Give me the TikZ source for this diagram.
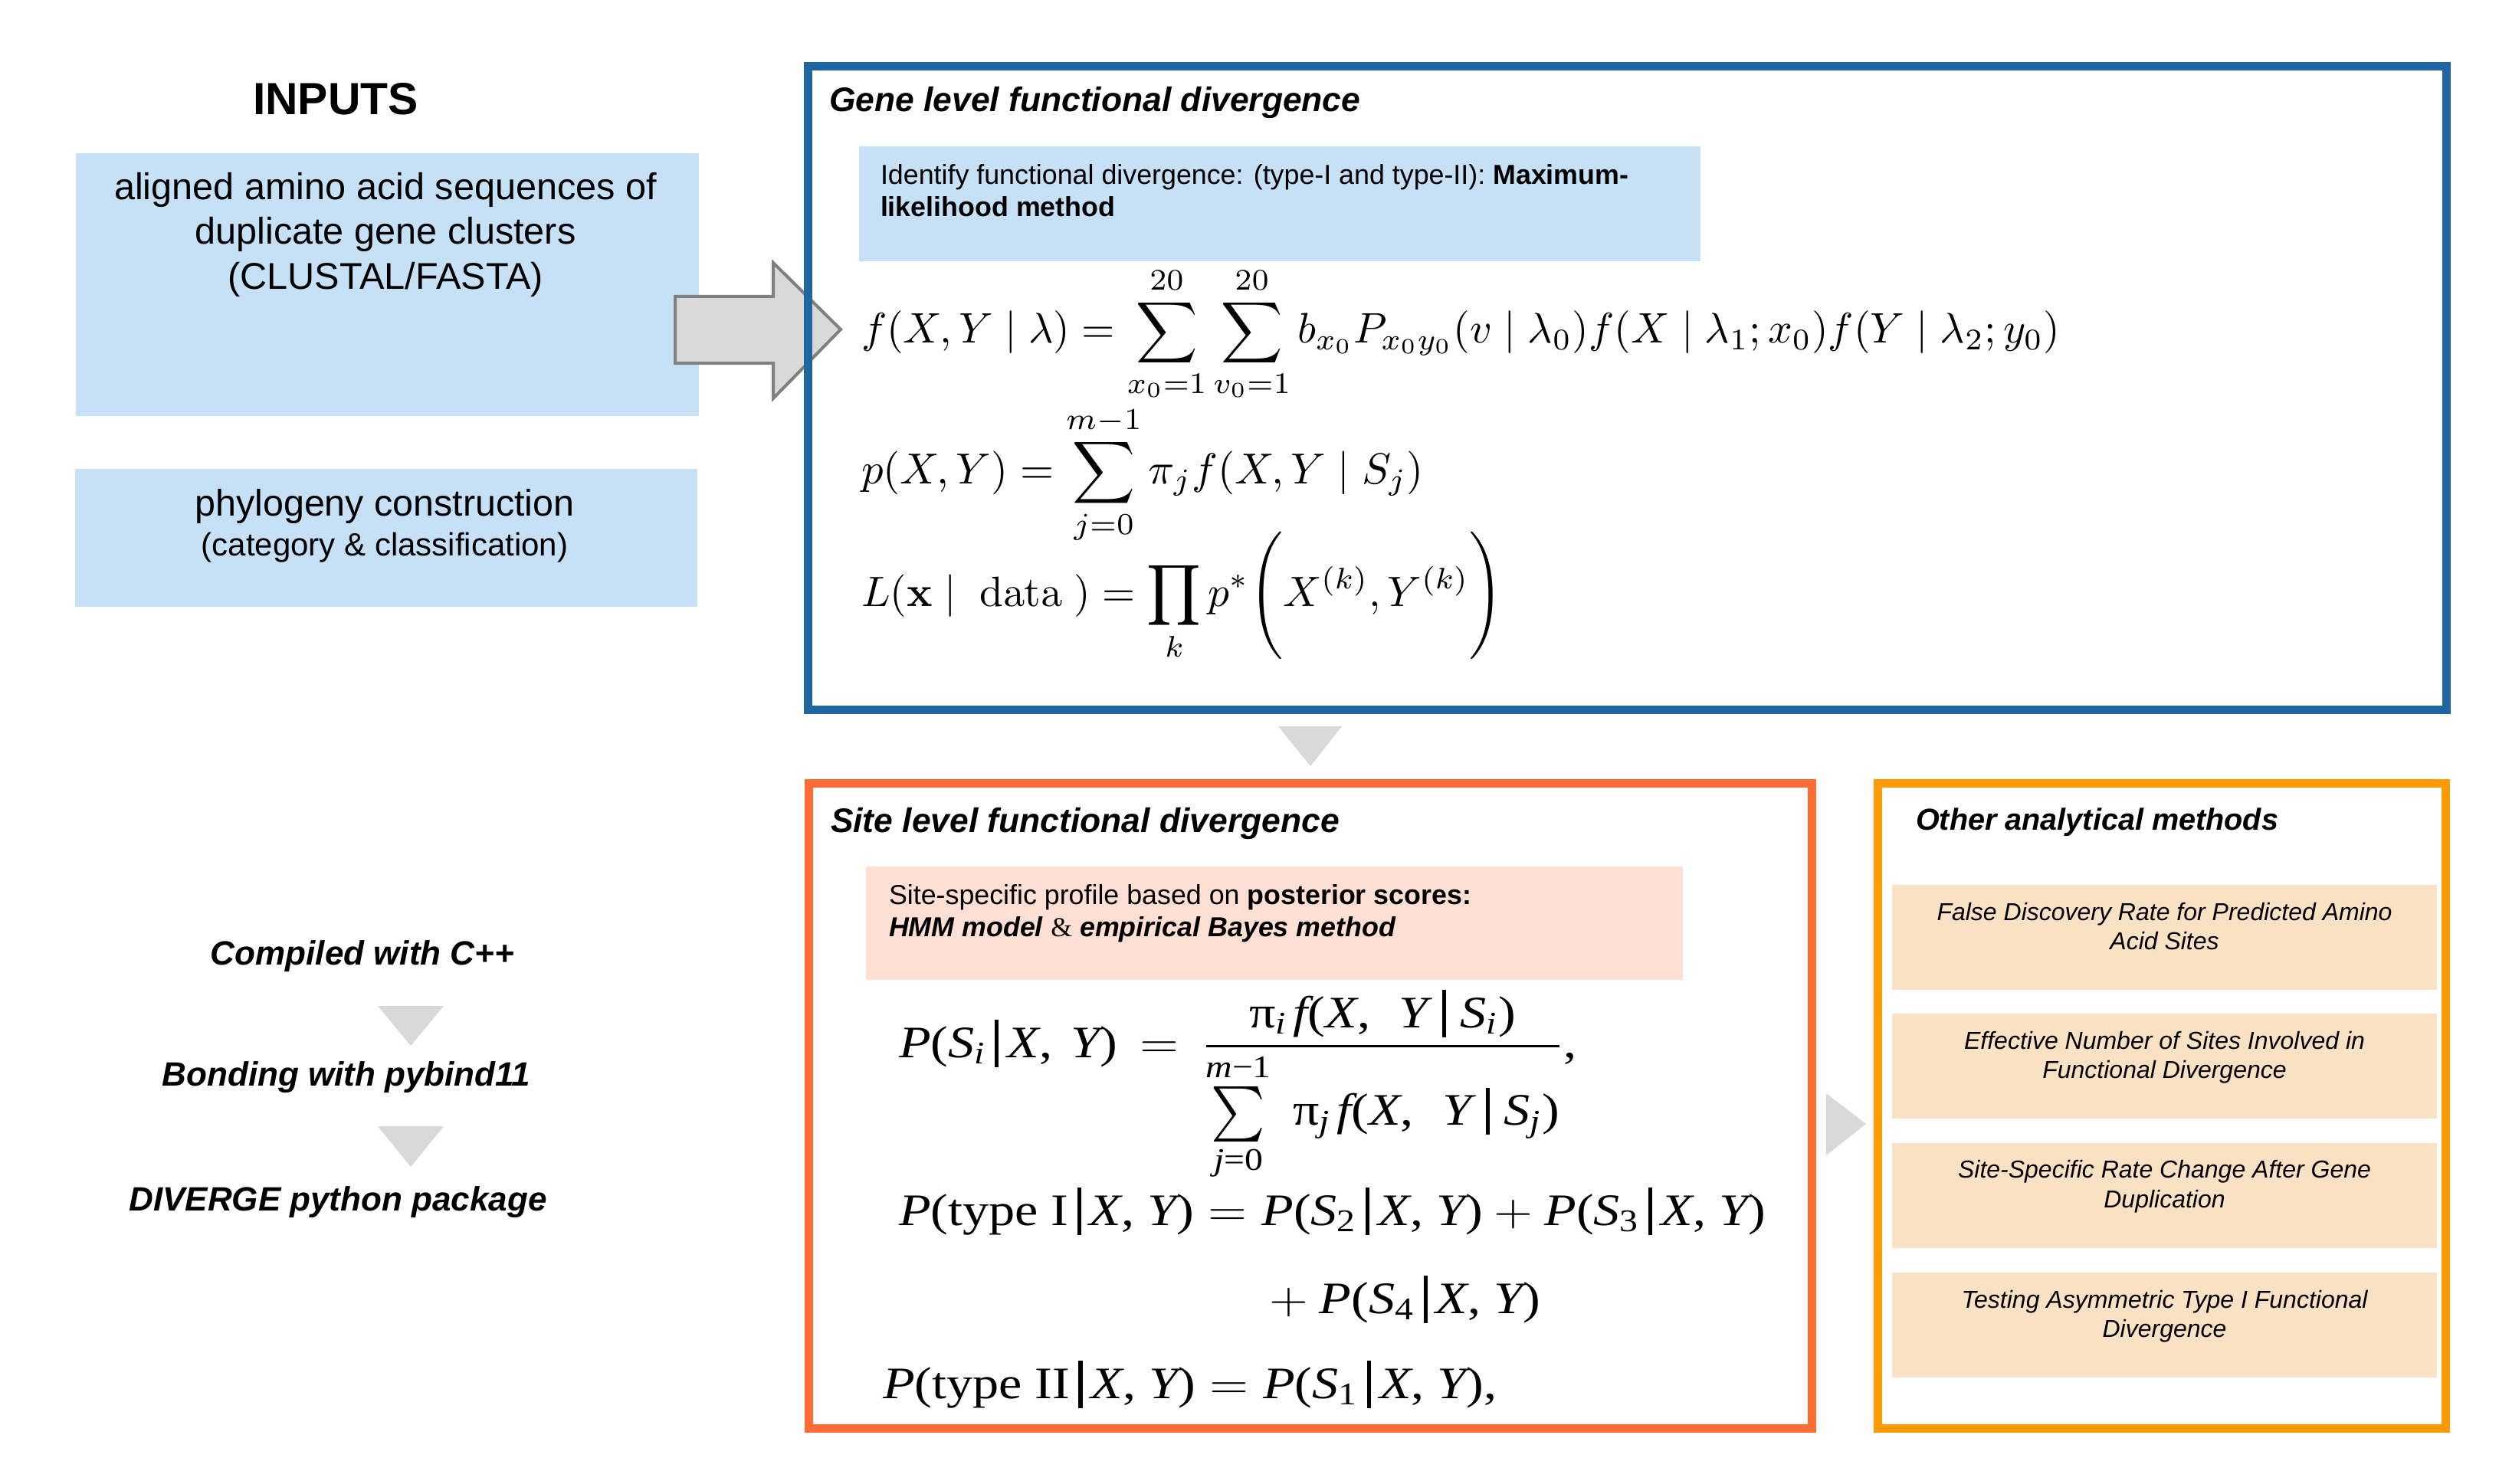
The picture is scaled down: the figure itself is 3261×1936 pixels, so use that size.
\documentclass[tikz,border=0pt]{standalone}
\usepackage{amsmath}
\usepackage{graphicx}
\usepackage[no-math]{fontspec}
\setmainfont{Liberation Sans}
\newfontfamily\tms{Liberation Serif}
\newlength\pxu
\setlength\pxu{0.25pt}
\definecolor{geneblue}{RGB}{31,101,162}
\definecolor{siteorange}{RGB}{255,107,53}
\definecolor{otherorange}{RGB}{255,155,0}
\definecolor{inblue}{RGB}{198,225,245}
\definecolor{pinkfill}{RGB}{253,223,212}
\definecolor{peach}{RGB}{249,225,195}
\definecolor{arrowgray}{RGB}{217,217,217}
\definecolor{arrowedge}{RGB}{128,128,128}
\newcommand\tv[1]{\text{\itshape #1}}
\newcommand\tu[1]{\text{\upshape #1}}
\newcommand\vb{\mskip3mu\rule[-0.22em]{0.075em}{1.05em}\mskip3mu}
\newcommand\vbw{\mskip5mu\rule[-0.22em]{0.075em}{1.05em}\mskip5mu}
\newcommand\hstretch[1]{\scalebox{1.16}[1]{#1}}
\newcommand\midsum{\mathop{\vcenter{\hbox{\scalebox{1}[1.25]{$\textstyle\sum$}}}}\limits}
\begin{document}
\begin{tikzpicture}[x=0.25pt,y=-0.25pt,
  every node/.style={inner sep=0pt, outer sep=0pt},
  fillbox/.style={rectangle, draw=none, inner sep=0pt},
  framebox/.style={line width=2.75pt, fill=none},
  ctext/.style={anchor=base, inner sep=0pt},
  ltext/.style={anchor=base west, inner sep=0pt},
  tri/.style={fill=arrowgray, draw=none},
  bigarrow/.style={fill=arrowgray, draw=arrowedge, line width=1pt, line join=miter},
  seqfont/.style={font=\tms\fontsize{14.7pt}{18pt}\selectfont}]
\useasboundingbox (0,0) rectangle (3261,1936);
\fill[white] (0,0) rectangle (3261,1936);

% ---------- INPUTS ----------
\node[ctext, font=\fontsize{14.7pt}{17pt}\selectfont\bfseries] (inputs) at (438,150) {INPUTS};
\node[fillbox, fill=inblue, minimum width=813\pxu, minimum height=343\pxu] (boxA) at (505.5,371.5) {};
\node[ctext, font=\fontsize{12.15pt}{14pt}\selectfont] (a1) at (503,261) {aligned amino acid sequences of};
\node[ctext, font=\fontsize{12.15pt}{14pt}\selectfont] (a2) at (503,319) {duplicate gene clusters};
\node[ctext, font=\fontsize{12.15pt}{14pt}\selectfont] (a3) at (503,378) {(CLUSTAL/FASTA)};
\node[fillbox, fill=inblue, minimum width=812\pxu, minimum height=180\pxu] (boxB) at (504,702) {};
\node[ctext, font=\fontsize{12.1pt}{14pt}\selectfont] (b1) at (502,673) {phylogeny construction};
\node[ctext, font=\fontsize{10.5pt}{12pt}\selectfont] (b2) at (502,725) {(category \& classification)};

% ---------- big arrow (behind frame) ----------
\draw[bigarrow] (881,387) -- (1009,387) -- (1009,343) -- (1097,430) -- (1009,520) -- (1009,474) -- (881,474) -- cycle;

% ---------- Gene level box ----------
\draw[framebox, draw=geneblue] (1054.5,86.5) rectangle (3192,926);
\node[ltext, font=\fontsize{11.1pt}{13pt}\selectfont\bfseries\itshape] (genetitle) at (1082,146) {Gene level functional divergence};
\node[fillbox, fill=inblue, minimum width=1098\pxu, minimum height=150\pxu] (geneinner) at (1670,266) {};
\node[ltext, font=\fontsize{8.95pt}{11pt}\selectfont] (g1) at (1149,241) {Identify functional divergence: (type-I and type-II): \textbf{Maximum-}};
\node[ltext, font=\fontsize{8.95pt}{11pt}\selectfont] (g2) at (1149,283) {\textbf{likelihood method}};
\node[ltext] (geq1) at (1124,448) {\resizebox{391pt}{!}{$\displaystyle f(X,Y\mid\lambda)=\sum_{x_0=1}^{20}\sum_{v_0=1}^{20}b_{x_0}P_{x_0y_0}(v\mid\lambda_0)f(X\mid\lambda_1;x_0)f(Y\mid\lambda_2;y_0)$}};
\node[ltext] (geq2) at (1124,631) {\resizebox{183.5pt}{!}{$\displaystyle p(X,Y)=\sum_{j=0}^{m-1}\pi_j f(X,Y\mid S_j)$}};
\node[ltext] (geq3) at (1124,791) {\resizebox{209.25pt}{!}{$\displaystyle L(\mathbf{x}\mid\ \mathrm{data}\ )=\prod_k p^*\Biggl(X^{(k)},Y^{(k)}\Biggr)$}};

% ---------- down triangle ----------
\fill[tri] (1668,948) -- (1751,948) -- (1710,1000) -- cycle;

% ---------- Site level box ----------
\draw[framebox, draw=siteorange] (1055,1022.5) rectangle (2364,1864);
\node[ltext, font=\fontsize{11.1pt}{13pt}\selectfont\bfseries\itshape] (sitetitle) at (1084,1086) {Site level functional divergence};
\node[fillbox, fill=pinkfill, minimum width=1066\pxu, minimum height=148\pxu] (siteinner) at (1663,1205) {};
\node[ltext, font=\fontsize{8.95pt}{11pt}\selectfont] (s1) at (1160,1180) {Site-specific profile based on \textbf{posterior scores:}};
\node[ltext, font=\fontsize{8.95pt}{11pt}\selectfont] (s2) at (1160,1222) {\textbf{\textit{HMM model}} {\tms\&} \textbf{\textit{empirical Bayes method}}};
\node[ltext, seqfont] (seq1) at (1173,1380) {\hstretch{$\displaystyle\tv{P}\tu{(}\tv{S}_{\tv{i}}\vb\tv{X}\tu{,}\hskip0.35em\tv{Y}\tu{)}\mskip3mu=\mskip3mu\frac{\tu{π}_{\tv{i}}\mskip2mu\tv{f}\tu{(}\tv{X}\tu{,}\hskip0.55em\tv{Y}\vbw\tv{S}_{\tv{i}}\tu{)}}{\midsum_{\tv{j}\tu{=0}}^{\tv{m}\tu{−1}}\ \tu{π}_{\tv{j}}\mskip2mu\tv{f}\tu{(}\tv{X}\tu{,}\hskip0.55em\tv{Y}\vbw\tv{S}_{\tv{j}}\tu{)}}\tu{,}$}};
\node[ltext, seqfont] (seq2) at (1173,1599) {\hstretch{$\tv{P}\tu{(type I}\vb\tv{X}\tu{,}\ \tv{Y}\tu{)} = \tv{P}\tu{(}\tv{S}_{\tu{2}}\vb\tv{X}\tu{,}\ \tv{Y}\tu{)} + \tv{P}\tu{(}\tv{S}_{\tu{3}}\vb\tv{X}\tu{,}\ \tv{Y}\tu{)}$}};
\node[ltext, seqfont] (seq3) at (1656,1714) {\hstretch{$\mathord{+}\mskip\medmuskip\tv{P}\tu{(}\tv{S}_{\tu{4}}\vb\tv{X}\tu{,}\ \tv{Y}\tu{)}$}};
\node[ltext, seqfont] (seq4) at (1152,1825) {\hstretch{$\tv{P}\tu{(type II}\vb\tv{X}\tu{,}\ \tv{Y}\tu{)} = \tv{P}\tu{(}\tv{S}_{\tu{1}}\vb\tv{X}\tu{,}\ \tv{Y}\tu{)}\tu{,}$}};

% ---------- right triangle ----------
\fill[tri] (2383,1427) -- (2383,1508) -- (2435,1467) -- cycle;

% ---------- Other analytical methods ----------
\draw[framebox, draw=otherorange] (2450,1022.5) rectangle (3191,1864);
\node[ltext, font=\fontsize{9.9pt}{12pt}\selectfont\bfseries\itshape] (othertitle) at (2500,1083) {Other analytical methods};
\node[fillbox, fill=peach, minimum width=711\pxu, minimum height=137\pxu] (o1) at (2824.5,1223.5) {};
\node[fillbox, fill=peach, minimum width=711\pxu, minimum height=137\pxu] (o2) at (2824.5,1391) {};
\node[fillbox, fill=peach, minimum width=711\pxu, minimum height=137\pxu] (o3) at (2824.5,1560) {};
\node[fillbox, fill=peach, minimum width=711\pxu, minimum height=137\pxu] (o4) at (2824.5,1729) {};
\tikzset{otext/.style={ctext, font=\fontsize{8pt}{10pt}\selectfont\itshape}}
\node[otext] (o1a) at (2824.5,1201) {False Discovery Rate for Predicted Amino};
\node[otext] (o1b) at (2824.5,1239) {Acid Sites};
\node[otext] (o2a) at (2824.5,1369) {Effective Number of Sites Involved in};
\node[otext] (o2b) at (2824.5,1407) {Functional Divergence};
\node[otext] (o3a) at (2824.5,1537) {Site-Specific Rate Change After Gene};
\node[otext] (o3b) at (2824.5,1576) {Duplication};
\node[otext] (o4a) at (2824.5,1707) {Testing Asymmetric Type I Functional};
\node[otext] (o4b) at (2824.5,1745) {Divergence};

% ---------- left build chain ----------
\tikzset{btext/.style={ctext, font=\fontsize{11pt}{13pt}\selectfont\bfseries\itshape}}
\node[btext] (comp) at (473,1259) {Compiled with C++};
\fill[tri] (493,1313) -- (579,1313) -- (536,1365) -- cycle;
\node[btext] (bond) at (452,1417) {Bonding with pybind11};
\fill[tri] (493,1470) -- (579,1470) -- (536,1523) -- cycle;
\node[btext] (pkg) at (441,1580) {DIVERGE python package};
\end{tikzpicture}
\end{document}
